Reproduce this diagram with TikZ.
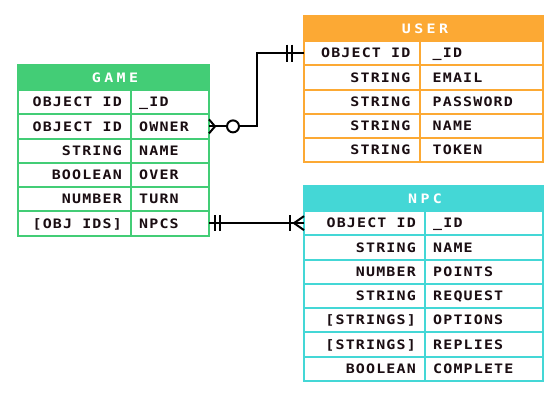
\documentclass[tikz,border=0pt]{standalone}
\usepackage{fontspec}
\newfontfamily\pxfont[FakeStretch=1.15,LetterSpace=9]{DejaVu Sans Mono Bold}
\newfontfamily\pxhead[FakeStretch=1.15,LetterSpace=26]{DejaVu Sans Mono Bold}
\definecolor{gamegreen}{HTML}{43CD76}
\definecolor{userorange}{HTML}{FCA934}
\definecolor{npccyan}{HTML}{44D7D6}
\definecolor{ink}{HTML}{1A0D12}
\tikzset{
  cellbox/.style={draw=#1, line width=2pt, fill=white, inner sep=0pt, outer sep=0pt,
    minimum height=24.25pt, anchor=north west},
  hdrbox/.style={draw=#1, fill=#1, line width=2pt, inner sep=0pt, outer sep=0pt,
    minimum height=25pt, anchor=north west},
  hdrtxt/.style={inner sep=0pt, text=white, anchor=base,
    font=\pxhead\fontsize{13}{13}\selectfont},
  txt/.style={inner sep=0pt, text=ink, font=\pxfont\fontsize{13}{13}\selectfont},
  conn/.style={draw=black, line width=2pt},
}
\newcommand\ertable[9]{%
  % #1 name, #2 x0, #3 divider, #4 x1, #5 y0, #6 colour, #7 title, #8 field indent, #9 rows
  \pgfmathsetmacro\wA{#3-#2}%
  \pgfmathsetmacro\wB{#4-#3}%
  \pgfmathsetmacro\wT{#4-#2}%
  \node[hdrbox=#6, minimum width=\wT pt] (#1-h) at (#2,#5) {};
  \node[hdrtxt] (#1-title) at ([shift={(1.5,4.7)}]#1-h.center) {#7};
  \foreach \tname/\fname [count=\i] in {#9} {
    \pgfmathsetmacro\yy{#5+25+(\i-1)*24.25}
    \node[cellbox=#6, minimum width=\wA pt] (#1-t\i) at (#2,\yy) {};
    \node[cellbox=#6, minimum width=\wB pt] (#1-f\i) at (#3,\yy) {};
    \node[txt, anchor=base east] (#1-tt\i) at ([shift={(-9,4.7)}]#1-t\i.east) {\tname};
    \node[txt, anchor=base west] (#1-ft\i) at ([shift={(#8,4.7)}]#1-f\i.west) {\fname};
  }%
}
\begin{document}
\begin{tikzpicture}[x=1pt,y=-1pt]
\useasboundingbox (0,0) rectangle (560,400);

\ertable{game}{18}{131}{209}{65}{gamegreen}{GAME}{8}{%
  OBJECT ID/\_ID, OBJECT ID/OWNER, STRING/NAME, BOOLEAN/OVER, NUMBER/TURN, {[OBJ IDS]}/NPCS}
\ertable{user}{304}{419.5}{543}{16}{userorange}{USER}{13}{%
  OBJECT ID/\_ID, STRING/EMAIL, STRING/PASSWORD, STRING/NAME, STRING/TOKEN}
\ertable{npc}{304}{425}{543}{186}{npccyan}{NPC}{8}{%
  OBJECT ID/\_ID, STRING/NAME, NUMBER/POINTS, STRING/REQUEST, {[STRINGS]}/OPTIONS, {[STRINGS]}/REPLIES, BOOLEAN/COMPLETE}

% GAME.owner (zero or many) -- USER._id (one and only one)
\draw[conn] (game-f2.east) -- ([xshift=48pt]game-f2.east) |- (user-t1.west);
\draw[conn] ([shift={(0,-7)}]game-f2.east) -- ([shift={(6,0)}]game-f2.east) -- ([shift={(0,7)}]game-f2.east);
\filldraw[conn, fill=white] ([shift={(24,0)}]game-f2.east) circle[radius=6];
\draw[conn] ([shift={(-17,-8.5)}]user-t1.west) -- ([shift={(-17,8.5)}]user-t1.west);
\draw[conn] ([shift={(-12,-8.5)}]user-t1.west) -- ([shift={(-12,8.5)}]user-t1.west);

% GAME.npcs (one and only one) -- NPC._id (one or many)
\draw[conn] (game-f6.east) -- (game-f6.east -| npc-t1.west);
\draw[conn] ([shift={(6,-8)}]game-f6.east) -- ([shift={(6,8)}]game-f6.east);
\draw[conn] ([shift={(11,-8)}]game-f6.east) -- ([shift={(11,8)}]game-f6.east);
\draw[conn] ([shift={(-14,-8)}]npc-t1.west) -- ([shift={(-14,8)}]npc-t1.west);
\draw[conn] ([shift={(0,-7)}]npc-t1.west) -- ([shift={(-10,0)}]npc-t1.west) -- ([shift={(0,7)}]npc-t1.west);
\end{tikzpicture}
\end{document}
